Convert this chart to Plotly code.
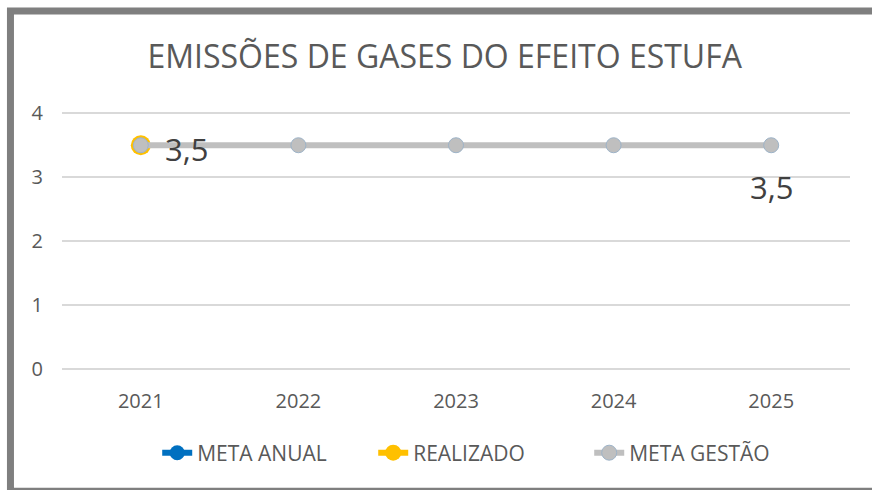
"""Emissões de gases do efeito estufa - meta x realizado."""

import plotly.graph_objects as go

# Data
anos = ['2021', '2022', '2023', '2024', '2025']
meta_anual = [3.5, None, None, None, None]
realizado = [3.5, None, None, None, None]
meta_gestao = [3.5, 3.5, 3.5, 3.5, 3.5]


def fmt(v):
    return f'{v:.1f}'.replace('.', ',')


FONT = 'Open Sans'
TXT = '#595959'
LBL = '#404040'

fig = go.Figure()

fig.add_trace(go.Scatter(
    x=anos, y=meta_anual,
    mode='lines+markers',
    name='META ANUAL',
    line=dict(color='#0070C0', width=6),
    marker=dict(size=15, color='#0070C0')
))

fig.add_trace(go.Scatter(
    x=anos, y=realizado,
    mode='lines+markers',
    name='REALIZADO',
    line=dict(color='#FFC000', width=6),
    marker=dict(size=20, color='#FFC000')
))

fig.add_trace(go.Scatter(
    x=anos, y=meta_gestao,
    mode='lines+markers',
    name='META GESTÃO',
    line=dict(color='#BFBFBF', width=6),
    marker=dict(size=15, color='#BFBFBF', line=dict(color='#9DB3C8', width=1))
))

# Data labels: realizado to the right of its point, meta gestao below the last one.
# Category positions are given by index (year strings would be read as numbers).
labels = [
    dict(x=0, y=realizado[0], xanchor='left', yanchor='middle', xshift=22, yshift=-4),
    dict(x=len(anos) - 1, y=meta_gestao[-1], xanchor='center', yanchor='middle', xshift=0, yshift=-42),
]
for lb in labels:
    fig.add_annotation(
        xref='x', yref='y',
        text=fmt(lb['y']),
        showarrow=False,
        font=dict(size=31, color=LBL, family=FONT),
        **lb
    )

fig.update_layout(
    width=872, height=490,
    margin=dict(l=62, r=22, t=112, b=121),
    paper_bgcolor='white',
    plot_bgcolor='white',
    font=dict(family=FONT, color=TXT, size=20),
    title=dict(
        text='EMISSÕES DE GASES DO EFEITO ESTUFA',
        x=0.51, xanchor='center',
        y=0.884, yanchor='middle', yref='container',
        font=dict(size=32, color=TXT, family=FONT)
    ),
    showlegend=True,
    legend=dict(
        orientation='h',
        x=0.532, xanchor='center',
        y=-0.327, yanchor='middle',
        font=dict(size=21, color=TXT),
        traceorder='normal',
        entrywidthmode='pixels',
        entrywidth=171
    ),
    shapes=[dict(
        type='rect', xref='paper', yref='paper',
        x0=-0.0654, x1=1.04, y0=-0.476, y1=1.3926,
        line=dict(color='#7F7F7F', width=7),
        layer='below'
    )]
)

fig.update_xaxes(
    type='category',
    range=[-0.5, 4.5],
    showgrid=False,
    showline=False,
    tickfont=dict(size=20, color=TXT),
    ticklabelstandoff=18
)

fig.update_yaxes(
    range=[0, 4.02],
    dtick=1,
    showgrid=True,
    gridcolor='#D9D9D9',
    gridwidth=1.5,
    zeroline=True,
    zerolinecolor='#D9D9D9',
    zerolinewidth=1.5,
    showline=False,
    tickfont=dict(size=20, color=TXT),
    ticklabelstandoff=18
)

fig.write_html(
    'out.html',
    config={'displayModeBar': False},
    post_script="document.body.style.margin='0px';"
)
